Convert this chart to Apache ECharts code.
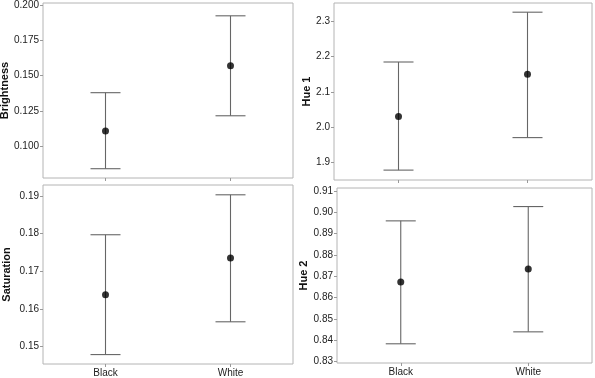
<!DOCTYPE html>
<html>
<head>
<meta charset="utf-8">
<title>Black vs White</title>
<script src="https://cdn.jsdelivr.net/npm/echarts@6/dist/echarts.min.js"></script>
<style>
  html, body { margin: 0; padding: 0; background: #fff; }
  #container { width: 595px; height: 378px; }
</style>
</head>
<body>
<div id="container"></div>
<script>
// 分组
var categories = ['Black', 'White'];

// 均值和误差范围 (Black, White)
var brightnessMean = [0.1107, 0.1570];
var brightnessLow  = [0.0839, 0.1215];
var brightnessHigh = [0.1379, 0.1925];

var hue1Mean = [2.031, 2.150];
var hue1Low  = [1.879, 1.971];
var hue1High = [2.185, 2.326];

var saturationMean = [0.1638, 0.1735];
var saturationLow  = [0.1479, 0.1566];
var saturationHigh = [0.1797, 0.1903];

var hue2Mean = [0.8673, 0.8734];
var hue2Low  = [0.8384, 0.8440];
var hue2High = [0.8960, 0.9027];

// y轴刻度
var brightnessTicks = [0.100, 0.125, 0.150, 0.175, 0.200];
var hue1Ticks = [1.9, 2.0, 2.1, 2.2, 2.3];
var saturationTicks = [0.15, 0.16, 0.17, 0.18, 0.19];
var hue2Ticks = [0.83, 0.84, 0.85, 0.86, 0.87, 0.88, 0.89, 0.90, 0.91];

var panels = [
  { name: 'Brightness', mean: brightnessMean, low: brightnessLow, high: brightnessHigh, ticks: brightnessTicks,
    min: 0.0773, max: 0.2016, digits: 3, gap: 31,
    grid: { left: 43, top: 3, width: 250, height: 175 }, showLabel: false },
  { name: 'Hue 1', mean: hue1Mean, low: hue1Low, high: hue1High, ticks: hue1Ticks,
    min: 1.851, max: 2.352, digits: 1, gap: 21,
    grid: { left: 334, top: 3, width: 258, height: 177 }, showLabel: false },
  { name: 'Saturation', mean: saturationMean, low: saturationLow, high: saturationHigh, ticks: saturationTicks,
    min: 0.1454, max: 0.1929, digits: 2, gap: 31,
    grid: { left: 43, top: 185, width: 250, height: 179 }, showLabel: true },
  { name: 'Hue 2', mean: hue2Mean, low: hue2Low, high: hue2High, ticks: hue2Ticks,
    min: 0.8294, max: 0.9114, digits: 2, gap: 24,
    grid: { left: 337, top: 188, width: 255, height: 175 }, showLabel: true }
];

var font = '"Liberation Sans", Arial, sans-serif';

function errorBar(params, api) {
  var x = api.value(0);
  var top = api.coord([x, api.value(2)]);
  var bot = api.coord([x, api.value(1)]);
  var half = 15;
  var style = { stroke: '#666', lineWidth: 1.1 };
  return {
    type: 'group',
    children: [
      { type: 'line', shape: { x1: top[0], y1: top[1], x2: bot[0], y2: bot[1] }, style: style },
      { type: 'line', shape: { x1: top[0] - half, y1: top[1], x2: top[0] + half, y2: top[1] }, style: style },
      { type: 'line', shape: { x1: bot[0] - half, y1: bot[1], x2: bot[0] + half, y2: bot[1] }, style: style }
    ]
  };
}

var option = {
  backgroundColor: '#fff',
  animation: false,
  grid: [], xAxis: [], yAxis: [], series: []
};

panels.forEach(function (p, i) {
  option.grid.push({
    left: p.grid.left, top: p.grid.top, width: p.grid.width, height: p.grid.height,
    show: true, borderColor: '#b4b4b4', borderWidth: 1, backgroundColor: '#fff',
    outerBoundsMode: 'none'
  });
  option.xAxis.push({
    type: 'category', gridIndex: i, data: categories,
    axisLine: { show: false },
    axisTick: { show: true, alignWithLabel: true, length: 3, lineStyle: { color: '#999' } },
    axisLabel: { show: p.showLabel, color: '#222', fontSize: 10, fontFamily: font, margin: 4 },
    splitLine: { show: false }
  });
  option.yAxis.push({
    type: 'value', gridIndex: i, min: p.min, max: p.max,
    name: p.name, nameLocation: 'middle', nameGap: p.gap,
    nameTextStyle: { fontSize: 11, fontWeight: 'bold', color: '#111', fontFamily: font },
    axisLine: { show: false },
    axisTick: { show: true, length: 3, customValues: p.ticks, lineStyle: { color: '#999' } },
    axisLabel: {
      color: '#222', fontSize: 10, fontFamily: font, margin: 4, customValues: p.ticks,
      formatter: (function (d) { return function (v) { return v.toFixed(d); }; })(p.digits)
    },
    splitLine: { show: false }
  });
  var bars = categories.map(function (c, k) { return [k, p.low[k], p.high[k]]; });
  var pts = categories.map(function (c, k) { return [k, p.mean[k]]; });
  option.series.push({
    type: 'custom', xAxisIndex: i, yAxisIndex: i, renderItem: errorBar, data: bars, z: 2
  });
  option.series.push({
    type: 'scatter', xAxisIndex: i, yAxisIndex: i, data: pts, symbolSize: 7,
    itemStyle: { color: '#000' }, z: 3
  });
});

var chart = echarts.init(document.getElementById('container'));
chart.setOption(option);
</script>
</body>
</html>
